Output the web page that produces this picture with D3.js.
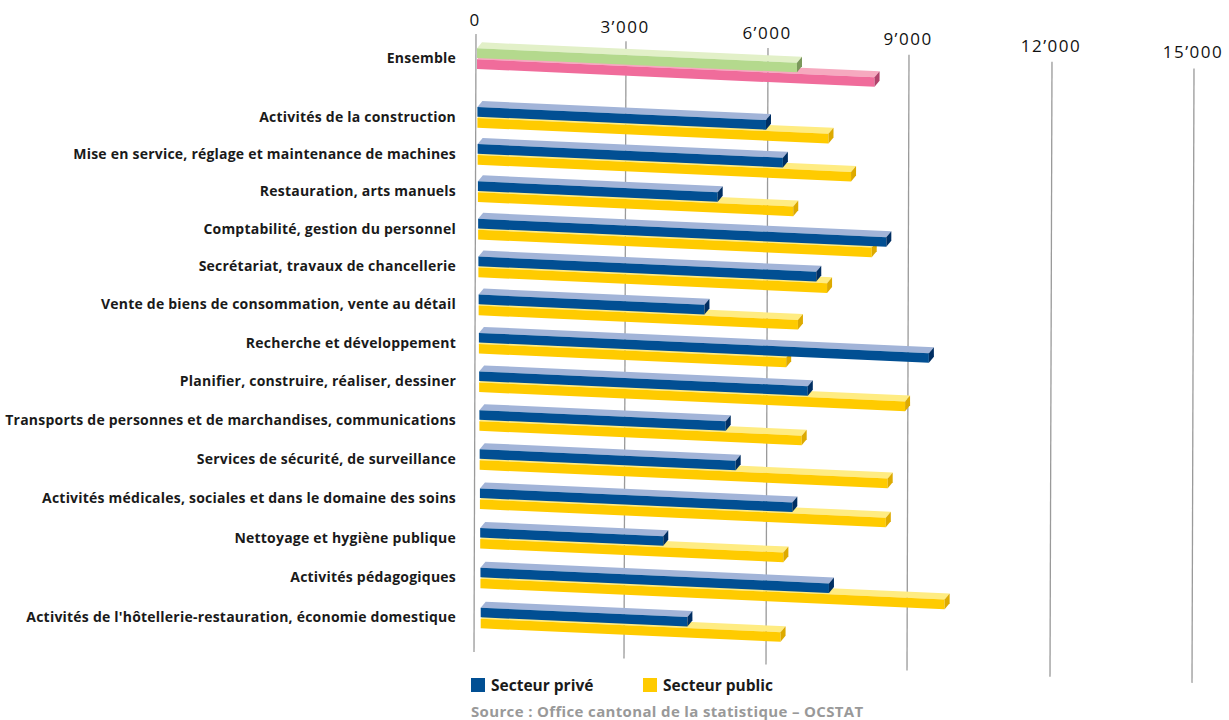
<!DOCTYPE html>
<html><head><meta charset="utf-8">
<script src="https://cdn.jsdelivr.net/npm/d3@7"></script>
<style>
html,body{margin:0;padding:0;background:#fff;}
svg{display:block;font-family:'Open Sans',sans-serif;}
</style></head>
<body>
<svg id="c" width="1229" height="720"></svg>
<script>
const categories = [
  "Ensemble",
  "Activités de la construction",
  "Mise en service, réglage et maintenance de machines",
  "Restauration, arts manuels",
  "Comptabilité, gestion du personnel",
  "Secrétariat, travaux de chancellerie",
  "Vente de biens de consommation, vente au détail",
  "Recherche et développement",
  "Planifier, construire, réaliser, dessiner",
  "Transports de personnes et de marchandises, communications",
  "Services de sécurité, de surveillance",
  "Activités médicales, sociales et dans le domaine des soins",
  "Nettoyage et hygiène publique",
  "Activités pédagogiques",
  "Activités de l'hôtellerie-restauration, économie domestique"
];
const secteurPrive  = [6670, 6010, 6370, 4990, 8570, 7080, 4710, 9470, 6900, 5160, 5370, 6570, 3840, 7350, 4350];
const secteurPublic = [8320, 7340, 7820, 6590, 8260, 7310, 6690, 6440, 8970, 6770, 8600, 8560, 6380, 9800, 6320];
const tickValues = [0, 3000, 6000, 9000, 12000, 15000];
const tickLabels = ["0", "3’000", "6’000", "9’000", "12’000", "15’000"];
const legendLabels = ["Secteur privé", "Secteur public"];
const sourceText = "Source : Office cantonal de la statistique – OCSTAT";

const svg = d3.select("#c");

// perspective-ish value scale (polylinear)
const x = d3.scaleLinear().domain(tickValues).range([476, 626, 768, 909, 1052, 1194]);
// row centres, slightly widening downwards (perspective)
const warp = t => t + 0.00339 * t * t;
const rowIdx = i => i === 0 ? -1.6 : i - 1;
const y = d3.scaleLinear().domain([0, warp(13)]).range([117.5, 618]);
const rowY = i => y(warp(rowIdx(i)));

const slope = 0.045;
const X0 = x(0);
const sl = X => slope * (X - X0);

const colors = {
  prive:  {front:"#014F93", top:"#A2B4D8", cap:"#002F63"},
  public: {front:"#FFCB00", top:"#FFEC82", cap:"#DDAA00"},
  ensPrive: {front:"#B4D98D", top:"#E2F0C8", cap:"#7B985B"},
  ensPublic:{front:"#F06C9B", top:"#F6A9BF", cap:"#B0426B"}
};

// gridlines
const grid = svg.append("g");
tickValues.forEach(v => {
  const gx = x(v);
  grid.append("line")
    .attr("x1", gx).attr("x2", gx - 2)
    .attr("y1", 34 + 0.048 * (gx - X0))
    .attr("y2", 652 + 0.043 * (gx - X0))
    .attr("stroke", "#9a9a9a").attr("stroke-width", 1.3);
});

// axis labels via d3.axisTop then repositioned along the tilted top edge
const axisG = svg.append("g")
  .call(d3.axisTop(x).tickValues(tickValues).tickSize(0)
    .tickFormat((d, i) => tickLabels[i]));
axisG.select(".domain").remove();
axisG.selectAll(".tick")
  .attr("transform", d => `translate(${x(d) - 1},${26 + 0.045 * (x(d) - X0)})`);
axisG.selectAll(".tick text")
  .attr("y", 0).attr("dy", 0)
  .attr("font-family", "'Open Sans',sans-serif")
  .attr("font-size", 17).attr("font-weight", 400)
  .attr("letter-spacing", "1.5px")
  .attr("fill", "#111");

// bars
const DX = 5, DY = -6, FH = 9.6;
const bars = svg.append("g");
function bar(v, yTop, c, shift) {
  const xl = X0 + 1 + shift, xr = x(v) - 2.5;
  const yl = yTop + sl(xl), yr = yTop + sl(xr);
  bars.append("path")
    .attr("d", `M${xl},${yl}L${xr},${yr}L${xr + DX},${yr + DY}L${xl + DX},${yl + DY}Z`)
    .attr("fill", c.top);
  bars.append("path")
    .attr("d", `M${xl},${yl}L${xr},${yr}L${xr},${yr + FH}L${xl},${yl + FH}Z`)
    .attr("fill", c.front);
  bars.append("path")
    .attr("d", `M${xr},${yr}L${xr + DX},${yr + DY}L${xr + DX},${yr + DY + FH}L${xr},${yr + FH}Z`)
    .attr("fill", c.cap);
}
categories.forEach((cat, i) => {
  const yc = rowY(i);
  const shift = 0.0066 * (yc - 56);
  const cp = i === 0 ? colors.ensPublic : colors.public;
  const cv = i === 0 ? colors.ensPrive : colors.prive;
  bar(secteurPublic[i], yc + 0.5, cp, shift);
  bar(secteurPrive[i], yc - 10.5, cv, shift);
});

// category labels
svg.append("g").selectAll("text").data(categories).join("text")
  .attr("x", 456)
  .attr("y", (d, i) => rowY(i) - 0.5)
  .attr("dy", "0.35em")
  .attr("text-anchor", "end")
  .attr("font-size", 14).attr("font-weight", 700)
  .attr("letter-spacing", "0.22px")
  .attr("fill", "#1a1a1a")
  .text(d => d);

// legend
const leg = svg.append("g");
const legCols = [colors.prive.front, colors.public.front];
const legX = [471, 643];
legendLabels.forEach((t, i) => {
  leg.append("rect").attr("x", legX[i]).attr("y", 678).attr("width", 14).attr("height", 14).attr("fill", legCols[i]);
  leg.append("text").attr("x", legX[i] + 20).attr("y", 691)
    .attr("font-size", 15.5).attr("font-weight", 700).attr("fill", "#1a1a1a").text(t);
});
svg.append("text").attr("x", 471).attr("y", 717)
  .attr("font-size", 15).attr("font-weight", 700).attr("letter-spacing", "0.35px")
  .attr("fill", "#999").text(sourceText);
</script>
</body></html>
